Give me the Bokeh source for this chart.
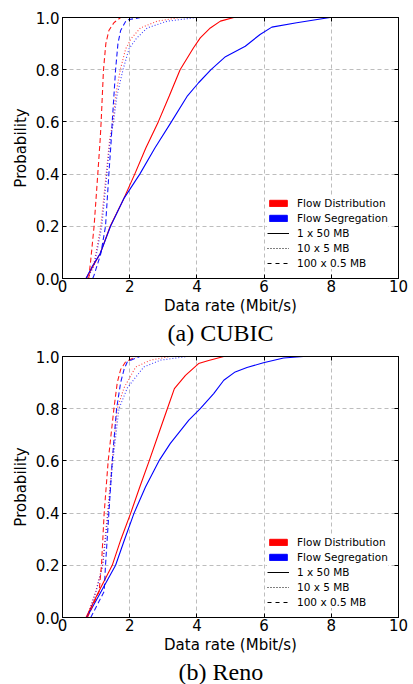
from bokeh.plotting import figure
from bokeh.models import (Legend, LegendItem, LinearAxis, FixedTicker,
                          PrintfTickFormatter, Title, Range1d)
from bokeh.layouts import column
from bokeh.embed import file_html
from bokeh.resources import INLINE

NAN = float("nan")

# ---------------- data (CDF: x = data rate at cumulative probability p) -------------
# CUBIC
CUBIC_FD_1x50_P = [0, 0.05, 0.095, 0.2, 0.305, 0.4, 0.5, 0.6, 0.7, 0.8, 0.884, 0.922, 0.96, 0.986, 1.0]
CUBIC_FD_1x50_X = [0.7, 0.92, 1.12, 1.42, 1.82, 2.15, 2.48, 2.85, 3.18, 3.5, 3.9, 4.1, 4.4, 4.7, 5.1]
CUBIC_FS_1x50_P = [0, 0.05, 0.095, 0.2, 0.305, 0.4, 0.5, 0.6, 0.7, 0.75, 0.8, 0.85, 0.89, 0.935, 0.963, 0.98, 1.0]
CUBIC_FS_1x50_X = [0.7, 0.9, 1.12, 1.43, 1.82, 2.3, 2.75, 3.24, 3.72, 4.05, 4.42, 4.85, 5.44, 5.88, 6.23, 6.97, 7.96]
CUBIC_FD_10x5_P = [0, 0.05, 0.1, 0.2, 0.4, 0.53, 0.6, 0.7, 0.8, 0.88, 0.92, 0.96, 0.986, 1.0]
CUBIC_FD_10x5_X = [0.75, 0.92, 1.0, 1.14, 1.3, 1.4, 1.5, 1.58, 1.72, 1.88, 2.05, 2.32, 2.82, 3.5]
CUBIC_FS_10x5_P = [0, 0.05, 0.1, 0.2, 0.4, 0.53, 0.6, 0.7, 0.8, 0.88, 0.92, 0.96, 0.986, 1.0]
CUBIC_FS_10x5_X = [0.75, 0.94, 1.02, 1.17, 1.32, 1.42, 1.52, 1.62, 1.8, 1.98, 2.2, 2.52, 3.12, 4.0]
CUBIC_FD_100x05_P = [0, 0.07, 0.2, 0.4, 0.53, 0.6, 0.8, 0.9, 0.95, 0.98, 1.0]
CUBIC_FD_100x05_X = [0.78, 0.84, 0.94, 1.05, 1.12, 1.15, 1.22, 1.29, 1.38, 1.53, 1.73]
CUBIC_FS_100x05_P = [0, 0.013, 0.095, 0.2, 0.4, 0.53, 0.6, 0.8, 0.9, 0.95, 0.99, 1.0]
CUBIC_FS_100x05_X = [0.9, 0.94, 1.14, 1.28, 1.38, 1.45, 1.48, 1.58, 1.65, 1.73, 1.9, 2.32]

# Reno
RENO_FD_1x50_P = [0, 0.1, 0.2, 0.3, 0.4, 0.5, 0.6, 0.7, 0.8, 0.877, 0.928, 0.973, 0.985, 1.0]
RENO_FD_1x50_X = [0.7, 1.08, 1.48, 1.74, 2.03, 2.3, 2.58, 2.85, 3.12, 3.33, 3.66, 4.05, 4.35, 4.8]
RENO_FS_1x50_P = [0, 0.1, 0.2, 0.3, 0.4, 0.5, 0.6, 0.667, 0.756, 0.8, 0.858, 0.909, 0.941, 0.958, 0.976, 0.994, 1.0]
RENO_FS_1x50_X = [0.72, 1.15, 1.58, 1.85, 2.13, 2.47, 2.87, 3.21, 3.76, 4.1, 4.5, 4.8, 5.14, 5.49, 5.98, 6.58, 7.17]
RENO_FD_10x5_P = [0, 0.1, 0.2, 0.4, 0.6, 0.8, 0.88, 0.96, 0.986, 1.0]
RENO_FD_10x5_X = [0.72, 0.99, 1.19, 1.34, 1.48, 1.63, 1.83, 2.18, 2.62, 3.2]
RENO_FS_10x5_P = [0, 0.1, 0.2, 0.4, 0.6, 0.8, 0.88, 0.96, 0.986, 1.0]
RENO_FS_10x5_X = [0.74, 1.0, 1.2, 1.36, 1.5, 1.68, 1.93, 2.42, 2.92, 3.7]
RENO_FD_100x05_P = [0, 0.1, 0.2, 0.4, 0.6, 0.8, 0.9, 0.95, 0.98, 1.0]
RENO_FD_100x05_X = [0.74, 1.09, 1.16, 1.24, 1.36, 1.53, 1.63, 1.73, 1.88, 2.2]
RENO_FS_100x05_P = [0, 0.1, 0.2, 0.4, 0.6, 0.8, 0.9, 0.95, 0.98, 1.0]
RENO_FS_100x05_X = [0.84, 1.24, 1.28, 1.38, 1.48, 1.61, 1.73, 1.83, 1.93, 2.3]

X_TICKS = [0, 2, 4, 6, 8, 10]
Y_TICKS = [0.0, 0.2, 0.4, 0.6, 0.8, 1.0]
LEGEND_LABELS = ["Flow Distribution", "Flow Segregation", "1 x 50 MB", "10 x 5 MB", "100 x 0.5 MB"]
CAPTIONS = ["(a) CUBIC", "(b) Reno"]

RED = "#ff0000"
BLUE = "#0000ff"
DASH = "5 3"
DOT = "1 2"
FONT = "DejaVu Sans"


def make_panel(caption, caption_offset, series, height, top_border, bottom_border):
    p = figure(width=410, height=height, x_range=Range1d(0, 10), y_range=Range1d(0, 1),
               output_backend="svg", toolbar_location=None,
               min_border_left=62, min_border_right=12,
               min_border_top=top_border, min_border_bottom=bottom_border)
    p.outline_line_color = "black"
    p.outline_line_width = 1
    p.outline_line_alpha = 1
    p.background_fill_color = "white"
    p.border_fill_color = "white"

    for ax in (p.xaxis[0], p.yaxis[0]):
        ax.major_tick_in = 4
        ax.major_tick_out = 0
        ax.minor_tick_line_color = None
        ax.axis_line_color = "black"
        ax.major_tick_line_color = "black"
        ax.major_label_text_font = FONT
        ax.major_label_text_font_size = "15px"
        ax.major_label_text_color = "black"
        ax.axis_label_text_font = FONT
        ax.axis_label_text_font_size = "15px"
        ax.axis_label_text_font_style = "normal"
        ax.axis_label_text_color = "black"
    p.xaxis[0].major_label_standoff = 1
    p.yaxis[0].major_label_standoff = 3
    p.xaxis[0].axis_label_standoff = 2
    p.yaxis[0].axis_label_standoff = 3
    p.xaxis[0].ticker = FixedTicker(ticks=X_TICKS)
    p.yaxis[0].ticker = FixedTicker(ticks=Y_TICKS)
    p.yaxis[0].formatter = PrintfTickFormatter(format="%.1f")
    p.xaxis[0].axis_label = "Data rate (Mbit/s)"
    p.yaxis[0].axis_label = "Probability"

    # inward ticks on top and right (labels not drawn)
    for loc, tks in (("right", Y_TICKS), ("above", X_TICKS)):
        ax = LinearAxis(ticker=FixedTicker(ticks=tks), major_tick_in=4, major_tick_out=0,
                        major_label_text_color=None, major_label_text_font_size="2px",
                        major_label_standoff=0,
                        minor_tick_line_color=None, axis_line_color="black",
                        major_tick_line_color="black")
        p.add_layout(ax, loc)

    p.xgrid.ticker = FixedTicker(ticks=X_TICKS)
    p.ygrid.ticker = FixedTicker(ticks=Y_TICKS)
    for g in (p.xgrid[0], p.ygrid[0]):
        g.grid_line_color = "#bdbdbd"
        g.grid_line_dash = "4 3"
        g.grid_line_width = 1

    for (xs, ps, color, dash, alpha) in series:
        p.line(x=xs, y=ps, line_color=color, line_dash=dash, line_width=1.1, line_alpha=alpha)

    # legend proxies (no visible data)
    r_fd = p.quad(left=[NAN], right=[NAN], top=[NAN], bottom=[NAN], fill_color=RED, line_color=RED)
    r_fs = p.quad(left=[NAN], right=[NAN], top=[NAN], bottom=[NAN], fill_color=BLUE, line_color=BLUE)
    r_s = p.line(x=[NAN], y=[NAN], line_color="black", line_width=1)
    r_dt = p.line(x=[NAN], y=[NAN], line_color="black", line_width=1, line_dash=DOT)
    r_da = p.line(x=[NAN], y=[NAN], line_color="black", line_width=1, line_dash="4 4")
    items = [LegendItem(label=lab, renderers=[r]) for lab, r in
             zip(LEGEND_LABELS, [r_fd, r_fs, r_s, r_dt, r_da])]
    leg = Legend(items=items, location=(205, 9), margin=0, padding=6, spacing=3,
                 glyph_width=22, glyph_height=8, label_height=12, label_standoff=8,
                 label_text_font=FONT, label_text_font_size="10.5px",
                 label_text_color="black",
                 border_line_color=None, background_fill_color="white",
                 background_fill_alpha=1)
    p.add_layout(leg, "center")

    p.add_layout(Title(text=caption, text_font="Liberation Serif", text_font_size="24px",
                       text_font_style="normal", text_color="black", align="left",
                       standoff=0, offset=caption_offset), "below")
    return p


cubic_series = [
    (CUBIC_FD_1x50_X, CUBIC_FD_1x50_P, RED, "solid", 1.0),
    (CUBIC_FS_1x50_X, CUBIC_FS_1x50_P, BLUE, "solid", 1.0),
    (CUBIC_FD_10x5_X, CUBIC_FD_10x5_P, RED, DOT, 0.75),
    (CUBIC_FS_10x5_X, CUBIC_FS_10x5_P, BLUE, DOT, 0.75),
    (CUBIC_FD_100x05_X, CUBIC_FD_100x05_P, RED, DASH, 0.9),
    (CUBIC_FS_100x05_X, CUBIC_FS_100x05_P, BLUE, DASH, 0.9),
]
reno_series = [
    (RENO_FD_1x50_X, RENO_FD_1x50_P, RED, "solid", 1.0),
    (RENO_FS_1x50_X, RENO_FS_1x50_P, BLUE, "solid", 1.0),
    (RENO_FD_10x5_X, RENO_FD_10x5_P, RED, DOT, 0.75),
    (RENO_FS_10x5_X, RENO_FS_10x5_P, BLUE, DOT, 0.75),
    (RENO_FD_100x05_X, RENO_FD_100x05_P, RED, DASH, 0.9),
    (RENO_FS_100x05_X, RENO_FS_100x05_P, BLUE, DASH, 0.9),
]

p1 = make_panel(CAPTIONS[0], 105, cubic_series, 348, 17, 70)
p2 = make_panel(CAPTIONS[1], 116, reno_series, 336, 8, 67)

layout = column(p1, p2, spacing=0)
open("out.html", "w").write(file_html(layout, INLINE))
